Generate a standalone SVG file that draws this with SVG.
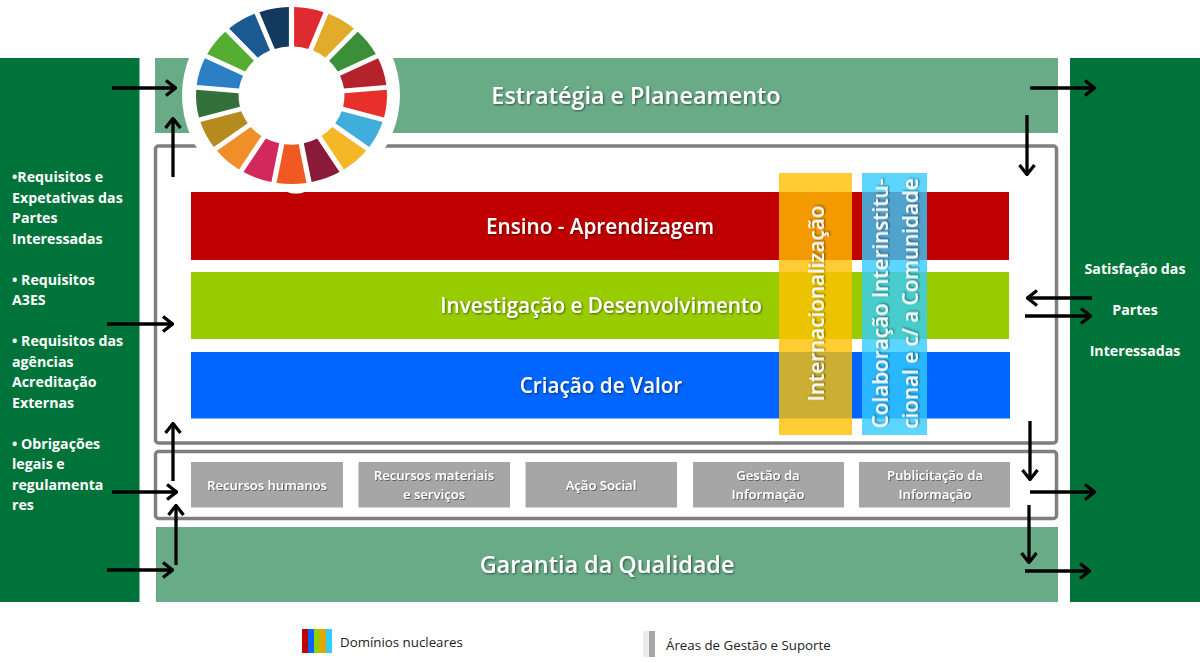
<svg xmlns="http://www.w3.org/2000/svg" xmlns:xlink="http://www.w3.org/1999/xlink" width="1200" height="663" viewBox="0 0 1200 663">
<style>
text{font-family:"Open Sans","Noto Sans","DejaVu Sans",sans-serif}
.side{fill:#00733a}
.band{fill:#69ab87}
.frame{fill:none;stroke:#7f7f7f;stroke-width:3.5}
.box{fill:#a6a6a6}
.title{fill:#fff;font-weight:600;text-anchor:middle;filter:url(#sh)}
.big{font-size:23.400px}
.mid{font-size:20.700px}
.small{fill:#fff;font-size:13.100px;font-weight:600;text-anchor:middle;filter:url(#sh2)}
.req{fill:#fff;font-size:14.200px;font-weight:700}
.sat{fill:#fff;font-size:14.200px;font-weight:700;text-anchor:middle}
.leg{fill:#222;font-size:13.300px}
.arr{fill:none;stroke:#000;stroke-width:3.300}
</style>
<defs>
<filter id="sh" x="-10%" y="-30%" width="120%" height="160%"><feDropShadow dx="1" dy="1" stdDeviation="1" flood-color="#000" flood-opacity=".55"/></filter>
<filter id="sh2" x="-10%" y="-30%" width="120%" height="160%"><feDropShadow dx="1" dy="1" stdDeviation=".7" flood-color="#000" flood-opacity=".4"/></filter>
<marker id="ah" viewBox="0 0 14 18" refX="13" refY="9" markerWidth="14" markerHeight="18" markerUnits="userSpaceOnUse" orient="auto"><path d="M3 1.500 L12.500 9 L3 16.500" fill="none" stroke="#000" stroke-width="3.300"/></marker>
<path id="seg" d="M-7.200 -52.500 L-15 -94.300 A95.500 95.500 0 0 1 15 -94.300 L7.200 -52.500 A53 53 0 0 0 -7.200 -52.500 Z"/>
</defs>
<rect width="1200" height="663" fill="#fff"/>
<g id="entradas"><rect class="side" x="0" y="58" width="139.500" height="544"/>
<text class="req" x="12" y="182">•Requisitos e</text>
<text class="req" x="12" y="203">Expetativas das</text>
<text class="req" x="12" y="223">Partes</text>
<text class="req" x="12" y="244">Interessadas</text>
<text class="req" x="12" y="285">• Requisitos</text>
<text class="req" x="12" y="305">A3ES</text>
<text class="req" x="12" y="346">• Requisitos das</text>
<text class="req" x="12" y="367">agências</text>
<text class="req" x="12" y="387">Acreditação</text>
<text class="req" x="12" y="408">Externas</text>
<text class="req" x="12" y="449">• Obrigações</text>
<text class="req" x="12" y="469">legais e</text>
<text class="req" x="12" y="490">regulamenta</text>
<text class="req" x="12" y="510">res</text></g>
<g id="saidas"><rect class="side" x="1070" y="58" width="130" height="544"/>
<text class="sat" x="1135" y="274">Satisfação das</text>
<text class="sat" x="1135" y="315">Partes</text>
<text class="sat" x="1135" y="356">Interessadas</text></g>
<g id="estrategia"><rect class="band" x="155" y="58" width="903" height="75"/>
<text class="title big" x="636" y="104">Estratégia e Planeamento</text></g>
<g id="garantia"><rect class="band" x="156" y="527" width="902" height="75"/>
<text class="title big" x="607" y="573">Garantia da Qualidade</text></g>
<g id="molduras"><rect class="frame" x="155.500" y="146" width="901" height="297" rx="3"/>
<rect class="frame" x="155.500" y="451.500" width="901" height="67" rx="3"/></g>
<g id="ods"><ellipse cx="291" cy="95" rx="109" ry="105" fill="#fff"/>
<g transform="translate(291.500 95.500) scale(1 .927)">
<use xlink:href="#seg" href="#seg" fill="#df2b30" transform="rotate(10.59)"/>
<use xlink:href="#seg" href="#seg" fill="#e0ac2a" transform="rotate(31.76)"/>
<use xlink:href="#seg" href="#seg" fill="#3a8f38" transform="rotate(52.94)"/>
<use xlink:href="#seg" href="#seg" fill="#b5232a" transform="rotate(74.12)"/>
<use xlink:href="#seg" href="#seg" fill="#e8302a" transform="rotate(95.29)"/>
<use xlink:href="#seg" href="#seg" fill="#40aeda" transform="rotate(116.47)"/>
<use xlink:href="#seg" href="#seg" fill="#f4b728" transform="rotate(137.65)"/>
<use xlink:href="#seg" href="#seg" fill="#8a1a3a" transform="rotate(158.82)"/>
<use xlink:href="#seg" href="#seg" fill="#f05a22" transform="rotate(180)"/>
<use xlink:href="#seg" href="#seg" fill="#d1295c" transform="rotate(201.18)"/>
<use xlink:href="#seg" href="#seg" fill="#f08e27" transform="rotate(222.35)"/>
<use xlink:href="#seg" href="#seg" fill="#b58a1f" transform="rotate(243.53)"/>
<use xlink:href="#seg" href="#seg" fill="#33703a" transform="rotate(264.71)"/>
<use xlink:href="#seg" href="#seg" fill="#2a7fc5" transform="rotate(285.88)"/>
<use xlink:href="#seg" href="#seg" fill="#55ae32" transform="rotate(307.06)"/>
<use xlink:href="#seg" href="#seg" fill="#1a5a90" transform="rotate(328.24)"/>
<use xlink:href="#seg" href="#seg" fill="#13395f" transform="rotate(349.41)"/>
</g></g>
<g id="ensino"><rect x="191" y="192" width="818" height="68" fill="#c00000"/>
<ellipse cx="296" cy="191.800" rx="8" ry="1.800" fill="#fff"/>
<text class="title mid" x="600" y="234">Ensino - Aprendizagem</text></g>
<g id="investigacao"><rect x="191" y="272" width="818" height="67" fill="#99cc00"/>
<text class="title mid" x="601" y="313">Investigação e Desenvolvimento</text></g>
<g id="criacao"><rect x="191" y="352" width="819" height="66.500" fill="#0066ff"/>
<text class="title mid" x="601" y="393">Criação de Valor</text></g>
<g id="internacionalizacao"><rect x="779" y="173" width="73" height="262" fill="#ffc000" fill-opacity=".8"/>
<text class="title mid" transform="translate(824 303.500) rotate(-90)">Internacionalização</text></g>
<g id="colaboracao"><rect x="862" y="173" width="65" height="262" fill="#33ccff" fill-opacity=".8"/>
<text class="title mid" transform="translate(888 303.500) rotate(-90)">Colaboração Interinstitu-</text>
<text class="title mid" transform="translate(918 303.500) rotate(-90)">cional e c/ a Comunidade</text></g>
<g id="recursos-humanos"><rect class="box" x="191" y="462" width="152" height="45.500"/>
<text class="small" x="267" y="490">Recursos humanos</text></g>
<g id="recursos-materiais"><rect class="box" x="358.500" y="462" width="151.500" height="45.500"/>
<text class="small" x="434" y="480">Recursos materiais</text>
<text class="small" x="434" y="499">e serviços</text></g>
<g id="acao-social"><rect class="box" x="525.500" y="462" width="151.500" height="45.500"/>
<text class="small" x="601" y="490">Ação Social</text></g>
<g id="gestao-informacao"><rect class="box" x="693" y="462" width="151" height="45.500"/>
<text class="small" x="768" y="480">Gestão da</text>
<text class="small" x="768" y="499">Informação</text></g>
<g id="publicitacao"><rect class="box" x="859" y="462" width="151" height="45.500"/>
<text class="small" x="935" y="480">Publicitação da</text>
<text class="small" x="935" y="499">Informação</text></g>
<g id="conectores" class="arr">
<path d="M112 88H176" marker-end="url(#ah)"/>
<path d="M173 177V118" marker-end="url(#ah)"/>
<path d="M107 324H173" marker-end="url(#ah)"/>
<path d="M173 481V423" marker-end="url(#ah)"/>
<path d="M112 492H177" marker-end="url(#ah)"/>
<path d="M176 565V505" marker-end="url(#ah)"/>
<path d="M107 570H173" marker-end="url(#ah)"/>
<path d="M1030 88H1095" marker-end="url(#ah)"/>
<path d="M1027 115V175" marker-end="url(#ah)"/>
<path d="M1092 298H1027" marker-end="url(#ah)"/>
<path d="M1025 316H1091" marker-end="url(#ah)"/>
<path d="M1030 421V480" marker-end="url(#ah)"/>
<path d="M1030 492H1095" marker-end="url(#ah)"/>
<path d="M1029 505V563" marker-end="url(#ah)"/>
<path d="M1025 571H1090" marker-end="url(#ah)"/>
</g>
<g id="legenda-dominios">
<rect x="302" y="629" width="6" height="24" fill="#c00000"/><rect x="308" y="629" width="6" height="24" fill="#0066ff"/><rect x="314" y="629" width="6" height="24" fill="#99cc00"/><rect x="320" y="629" width="6" height="24" fill="#e0a800"/><rect x="326" y="629" width="6" height="24" fill="#33ccff"/>
<text class="leg" x="340" y="647">Domínios nucleares</text></g>
<g id="legenda-areas">
<rect x="643" y="631" width="6" height="26" fill="#ececec"/><rect x="649" y="631" width="6" height="26" fill="#a6a6a6"/>
<text class="leg" x="666" y="650">Áreas de Gestão e Suporte</text></g>
</svg>
